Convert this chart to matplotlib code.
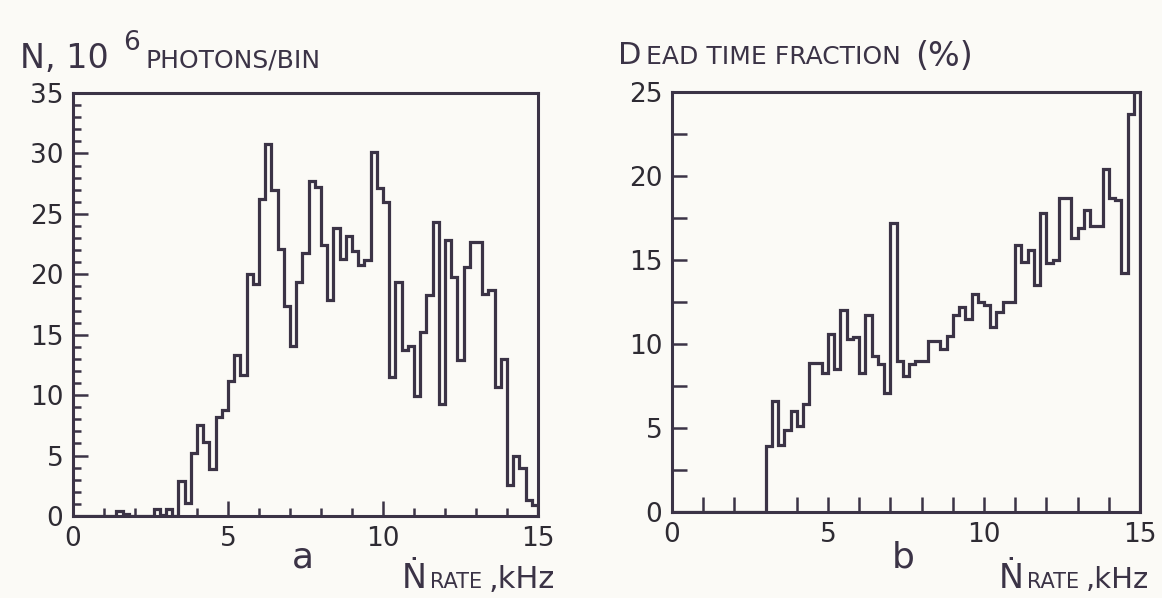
import matplotlib
matplotlib.use('Agg')
import matplotlib.pyplot as plt
import numpy as np

# bin edges (kHz) shared by both histograms
bin_edges = np.linspace(0, 15, 76)

# panel a: N, 10^6 photons per bin
photons = [0, 0, 0, 0, 0, 0, 0, 0.4, 0.2, 0, 0, 0, 0, 0.6, 0.1, 0.6, 0, 2.9, 1.1, 5.2,
           7.5, 6.1, 3.9, 8.2, 8.8, 11.2, 13.3, 11.7, 20.0, 19.2, 26.2, 30.8, 27.0, 22.1, 17.4,
           14.1, 19.4, 21.8, 27.7, 27.2, 22.4, 17.9, 23.8, 21.3, 23.2, 21.9, 20.8, 21.2, 30.1,
           27.1, 26.0, 11.5, 19.4, 13.7, 14.1, 9.9, 15.2, 18.3, 24.3, 9.3, 22.8, 19.8, 12.9,
           20.6, 22.7, 22.7, 18.4, 18.7, 10.7, 13.0, 2.6, 5.0, 4.0, 1.3, 0.9]

# panel b: dead time fraction, %
dead_time = [0] * 15 + [3.9, 6.6, 4.0, 4.9, 6.0, 5.1, 6.4, 8.85, 8.85, 8.3, 10.6, 8.5, 12.0,
                        10.3, 10.4, 8.3, 11.7, 9.3, 8.8, 7.1, 17.2, 9.0, 8.1, 8.8, 9.0, 9.0,
                        10.2, 10.2, 9.7, 10.5, 11.7, 12.2, 11.5, 13.0, 12.5, 12.3, 11.0, 11.9,
                        12.5, 12.5, 15.9, 14.9, 15.6, 13.5, 17.8, 14.8, 15.0, 18.7, 18.7, 16.3,
                        16.9, 18.0, 17.0, 17.0, 20.4, 18.7, 18.6, 14.2, 23.7, 25.0]

x_ticks = [0, 5, 10, 15]
a_y_ticks = [0, 5, 10, 15, 20, 25, 30, 35]
b_y_ticks = [0, 5, 10, 15, 20, 25]

W, H = 1162, 598
ink = '#3b3346'
paper = '#fbfaf6'

plt.rcParams['font.family'] = ['DejaVu Sans']

fig = plt.figure(figsize=(W / 100, H / 100), dpi=100, facecolor=paper)


def frac(x, y):
    # pixel position (from top-left) -> figure fraction
    return x / W, 1 - y / H


def put(x, y, s, size):
    fx, fy = frac(x, y)
    fig.text(fx, fy, s, fontsize=size, color=ink, va='baseline', ha='left')


def style_axes(ax, ymax, yminor):
    ax.set_facecolor(paper)
    ax.set_xlim(0, 15)
    ax.set_ylim(0, ymax)
    for sp in ax.spines.values():
        sp.set_linewidth(2.2)
        sp.set_color(ink)
    ax.set_xticks(x_ticks)
    ax.set_xticks(np.arange(0, 16, 1), minor=True)
    ax.set_yticks(np.arange(0, ymax + 0.1, yminor), minor=True)
    ax.tick_params(which='both', direction='in', colors=ink, width=1.8,
                   labelsize=19, labelcolor='#2e2b33', top=False, right=False)
    ax.tick_params(which='major', length=11, pad=7)
    ax.tick_params(which='minor', length=6)


ax_a = fig.add_axes([73 / W, 1 - 516 / H, 465 / W, 423 / H])
ax_a.stairs(photons, bin_edges, color=ink, linewidth=2.3)
style_axes(ax_a, 35, 1)
ax_a.set_yticks(a_y_ticks)

ax_b = fig.add_axes([672 / W, 1 - 512 / H, 468 / W, 420 / H])
ax_b.stairs(dead_time, bin_edges, color=ink, linewidth=2.3)
style_axes(ax_b, 25, 2.5)
ax_b.set_yticks(b_y_ticks)
ax_b.tick_params(which='minor', length=11)

# headings
put(20, 68, 'N, 10', 24)
put(123, 50, '6', 19)
put(146, 68, 'PHOTONS/BIN', 18)

put(618, 64, 'D', 22)
put(646, 64, 'EAD TIME FRACTION', 18)
put(915, 66, '(%)', 24)

# panel letters and axis titles
put(292, 568, 'a', 26)
put(402, 588, 'Ṅ', 24)
put(430, 588, 'RATE', 15)
put(489, 588, ',kHz', 22)

put(892, 568, 'b', 26)
put(999, 588, 'Ṅ', 24)
put(1027, 588, 'RATE', 15)
put(1086, 588, ',kHz', 21)

fig.savefig('out.png', dpi=100, facecolor=paper)
